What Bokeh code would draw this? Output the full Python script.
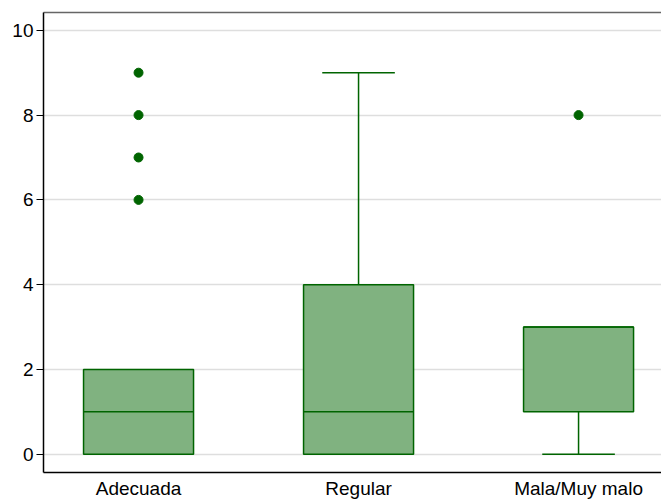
from bokeh.plotting import figure
from bokeh.models import FixedTicker, Range1d, ColumnDataSource, LinearAxis, Label
from bokeh.embed import file_html
from bokeh.resources import INLINE

# ---- data ----
categories = ["Adecuada", "Regular", "Mala/Muy malo"]
q1 = [0, 0, 1]
median = [1, 1, 3]
q3 = [2, 4, 3]
lower_whisker = [0, 0, 0]
upper_whisker = [2, 9, 3]
outlier_cat = ["Adecuada", "Adecuada", "Adecuada", "Adecuada", "Mala/Muy malo"]
outlier_val = [6, 7, 8, 9, 8]
y_ticks = [0, 2, 4, 6, 8, 10]

pos = {c: i + 1 for i, c in enumerate(categories)}
xs = [pos[c] for c in categories]

box_w = 0.5
cap_w = 0.33
dark = "#006400"
fill = "#80b280"
font = "Liberation Sans"
y0, y1 = -0.43, 10.42

p = figure(width=661, height=501, output_backend="svg", toolbar_location=None,
           x_range=Range1d(0.568, 3.377), y_range=Range1d(y0, y1),
           min_border_left=43, min_border_right=0, min_border_top=12, min_border_bottom=26)

src = ColumnDataSource(dict(x=xs, q1=q1, med=median, q3=q3, lo=lower_whisker, hi=upper_whisker,
                            bl=[x - box_w / 2 for x in xs], br=[x + box_w / 2 for x in xs]))

# whiskers (stems)
p.segment(x0="x", y0="q3", x1="x", y1="hi", source=src, line_color=dark, line_width=1.5)
p.segment(x0="x", y0="q1", x1="x", y1="lo", source=src, line_color=dark, line_width=1.5)
# caps (only where whisker extends beyond box)
hi_idx = [i for i in range(3) if upper_whisker[i] > q3[i]]
lo_idx = [i for i in range(3) if lower_whisker[i] < q1[i]]
cap_src_hi = ColumnDataSource(dict(l=[xs[i] - cap_w / 2 for i in hi_idx],
                                   r=[xs[i] + cap_w / 2 for i in hi_idx],
                                   y=[upper_whisker[i] for i in hi_idx]))
cap_src_lo = ColumnDataSource(dict(l=[xs[i] - cap_w / 2 for i in lo_idx],
                                   r=[xs[i] + cap_w / 2 for i in lo_idx],
                                   y=[lower_whisker[i] for i in lo_idx]))
p.segment(x0="l", y0="y", x1="r", y1="y", source=cap_src_hi, line_color=dark, line_width=1.5)
p.segment(x0="l", y0="y", x1="r", y1="y", source=cap_src_lo, line_color=dark, line_width=1.5)

# boxes
p.vbar(x="x", width=box_w, bottom="q1", top="q3", source=src,
       fill_color=fill, line_color=dark, line_width=1.5)
# medians
p.segment(x0="bl", y0="med", x1="br", y1="med", source=src, line_color=dark, line_width=1.5)

# outliers
p.scatter(x=[pos[c] for c in outlier_cat], y=outlier_val, size=9,
          fill_color=dark, line_color=dark)

# axes styling
p.xaxis.ticker = FixedTicker(ticks=xs)
p.xaxis.major_label_overrides = {pos[c]: c for c in categories}
p.xaxis.major_tick_out = 0
p.xaxis.major_tick_in = 0
p.xaxis.minor_tick_line_color = None
p.xaxis.major_label_standoff = 5
p.yaxis.ticker = FixedTicker(ticks=y_ticks)
p.yaxis.major_tick_out = 7
p.yaxis.major_tick_in = 0
p.yaxis.minor_tick_line_color = None
p.yaxis.major_label_standoff = 3
for ax in (p.xaxis, p.yaxis):
    ax.axis_line_color = "black"
    ax.axis_line_width = 1.5
    ax.major_tick_line_color = "black"
    ax.major_tick_line_width = 1.2
    ax.major_label_text_font = font
    ax.major_label_text_font_size = "19px"
    ax.major_label_text_color = "black"

# top border line only (no right border, as in the reference)
top = LinearAxis(ticker=FixedTicker(ticks=[]), axis_line_color="#666666", axis_line_width=1.5,
                 major_label_text_font_size="0px", major_tick_out=0, major_tick_in=0,
                 minor_tick_line_color=None, major_label_standoff=0)
p.add_layout(top, "above")

p.xgrid.grid_line_color = None
p.ygrid.grid_line_color = "#dedede"
p.ygrid.grid_line_width = 1.5
p.outline_line_color = None
p.background_fill_color = "white"
p.border_fill_color = "white"

open("out.html", "w").write(file_html(p, INLINE))
